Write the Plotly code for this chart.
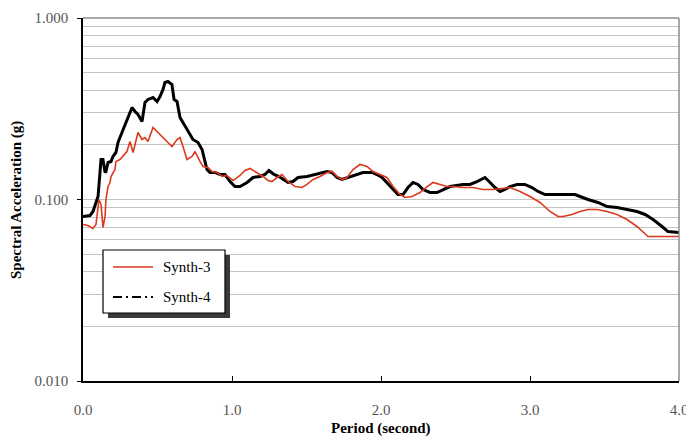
import plotly.graph_objects as go

# Period (s) and spectral acceleration (g) for the two synthetic records
period_s3 = [0.000, 0.034, 0.067, 0.087, 0.107, 0.121, 0.134, 0.148, 0.154, 0.168,
             0.181, 0.188, 0.215, 0.221, 0.248, 0.268, 0.295, 0.315, 0.336, 0.369,
             0.396, 0.416, 0.436, 0.470, 0.497, 0.530, 0.564, 0.597, 0.631, 0.651,
             0.671, 0.698, 0.732, 0.752, 0.785, 0.805, 0.839, 0.866, 0.899, 0.933,
             0.966, 1.007, 1.054, 1.087, 1.121, 1.168, 1.208, 1.242, 1.268, 1.302,
             1.336, 1.376, 1.423, 1.470, 1.503, 1.544, 1.591, 1.638, 1.671, 1.705,
             1.738, 1.772, 1.812, 1.859, 1.906, 1.946, 1.993, 2.040, 2.081, 2.128,
             2.161, 2.208, 2.262, 2.309, 2.349, 2.396, 2.443, 2.483, 2.550, 2.617,
             2.685, 2.752, 2.812, 2.866, 2.933, 3.000, 3.067, 3.134, 3.188, 3.221,
             3.282, 3.336, 3.389, 3.450, 3.517, 3.584, 3.651, 3.718, 3.792, 3.872,
             4.000]
sa_s3 = [0.0728, 0.0719, 0.0692, 0.0728, 0.1000, 0.0939, 0.0701, 0.0806, 0.1000, 0.1179,
         0.1241, 0.1339, 0.1463, 0.1620, 0.1661, 0.1725, 0.1838, 0.2087, 0.1815, 0.2339,
         0.2141, 0.2196, 0.2087, 0.2493, 0.2370, 0.2224, 0.2087, 0.1959, 0.2141, 0.2196,
         0.1959, 0.1661, 0.1725, 0.1838, 0.1620, 0.1520, 0.1500, 0.1427, 0.1409, 0.1339,
         0.1356, 0.1272, 0.1356, 0.1445, 0.1482, 0.1409, 0.1339, 0.1273, 0.1256, 0.1322,
         0.1373, 0.1256, 0.1179, 0.1164, 0.1210, 0.1289, 0.1339, 0.1409, 0.1427, 0.1339,
         0.1289, 0.1322, 0.1463, 0.1559, 0.1520, 0.1427, 0.1373, 0.1322, 0.1179, 0.1065,
         0.1026, 0.1039, 0.1093, 0.1179, 0.1241, 0.1210, 0.1179, 0.1179, 0.1164, 0.1164,
         0.1135, 0.1135, 0.1150, 0.1164, 0.1107, 0.1039, 0.0963, 0.0859, 0.0806, 0.0806,
         0.0827, 0.0859, 0.0881, 0.0881, 0.0859, 0.0827, 0.0776, 0.0710, 0.0625, 0.0625,
         0.0625]

period_s4 = [0.000, 0.047, 0.067, 0.087, 0.101, 0.114, 0.121, 0.134, 0.148, 0.154,
             0.168, 0.188, 0.201, 0.221, 0.235, 0.248, 0.282, 0.315, 0.329, 0.349,
             0.369, 0.396, 0.416, 0.436, 0.470, 0.497, 0.517, 0.537, 0.550, 0.570,
             0.597, 0.611, 0.631, 0.651, 0.685, 0.705, 0.738, 0.772, 0.799, 0.832,
             0.852, 0.886, 0.919, 0.953, 0.987, 1.020, 1.054, 1.101, 1.141, 1.188,
             1.221, 1.248, 1.282, 1.315, 1.342, 1.376, 1.409, 1.443, 1.503, 1.557,
             1.604, 1.638, 1.671, 1.705, 1.738, 1.779, 1.839, 1.879, 1.940, 1.973,
             2.007, 2.040, 2.081, 2.114, 2.148, 2.181, 2.215, 2.248, 2.282, 2.329,
             2.376, 2.416, 2.463, 2.550, 2.597, 2.644, 2.698, 2.732, 2.765, 2.799,
             2.832, 2.866, 2.913, 2.966, 3.013, 3.054, 3.101, 3.168, 3.235, 3.302,
             3.336, 3.389, 3.456, 3.517, 3.584, 3.651, 3.718, 3.772, 3.826, 3.886,
             3.926, 4.000]
sa_s4 = [0.0806, 0.0816, 0.0859, 0.0963, 0.1039, 0.1409, 0.1661, 0.1661, 0.1409, 0.1427,
         0.1599, 0.1620, 0.1725, 0.1815, 0.2061, 0.2196, 0.2590, 0.3015, 0.3213, 0.3054,
         0.2940, 0.2690, 0.3423, 0.3560, 0.3648, 0.3467, 0.3695, 0.4040, 0.4412, 0.4470,
         0.4300, 0.3560, 0.3467, 0.2829, 0.2524, 0.2370, 0.2141, 0.2061, 0.1886, 0.1463,
         0.1409, 0.1409, 0.1373, 0.1373, 0.1256, 0.1179, 0.1179, 0.1241, 0.1322, 0.1339,
         0.1373, 0.1445, 0.1373, 0.1339, 0.1289, 0.1241, 0.1256, 0.1322, 0.1339, 0.1373,
         0.1409, 0.1427, 0.1409, 0.1322, 0.1289, 0.1322, 0.1373, 0.1409, 0.1409, 0.1373,
         0.1322, 0.1241, 0.1135, 0.1065, 0.1065, 0.1164, 0.1241, 0.1210, 0.1135, 0.1093,
         0.1093, 0.1135, 0.1179, 0.1210, 0.1210, 0.1256, 0.1322, 0.1241, 0.1164, 0.1107,
         0.1135, 0.1179, 0.1210, 0.1210, 0.1164, 0.1107, 0.1065, 0.1065, 0.1065, 0.1065,
         0.1039, 0.1000, 0.0963, 0.0915, 0.0904, 0.0881, 0.0859, 0.0827, 0.0776, 0.0710,
         0.0666, 0.0658]

series_names = ["Synth-3", "Synth-4"]
x_ticks = [0, 1, 2, 3, 4]
x_tick_text = ["0.0", "1.0", "2.0", "3.0", "4.0"]
y_ticks = [0.01, 0.1, 1.0]
y_tick_text = ["0.010", "0.100", "1.000"]
y_minor = [m * d for d in (0.01, 0.1) for m in range(2, 10)]

RED = "#dc3a1e"
BLACK = "#000000"
SERIF = "Liberation Serif, Times New Roman, serif"

W, H = 686, 439
L, R, T, B = 83, 7, 18, 58
PW, PH = W - L - R, H - T - B


def px(x):
    return (x - L) / PW


def py(y):
    return (H - B - y) / PH


fig = go.Figure()
fig.add_trace(go.Scatter(x=period_s4, y=sa_s4, mode="lines", name=series_names[1],
                         line=dict(color=BLACK, width=3), showlegend=False))
fig.add_trace(go.Scatter(x=period_s3, y=sa_s3, mode="lines", name=series_names[0],
                         line=dict(color=RED, width=1.6), showlegend=False))

shapes = [
    # grey top and right frame edges
    dict(type="line", xref="paper", yref="paper", x0=0, x1=1, y0=1, y1=1,
         line=dict(color="#8c8c8c", width=1.5)),
    dict(type="line", xref="paper", yref="paper", x0=1, x1=1, y0=0, y1=1,
         line=dict(color="#8c8c8c", width=1.5)),
    # legend box with drop shadow
    dict(type="rect", xref="paper", yref="paper", x0=px(108), x1=px(230), y0=py(318), y1=py(255),
         fillcolor="#3a3a3a", line=dict(width=0)),
    dict(type="rect", xref="paper", yref="paper", x0=px(103), x1=px(225), y0=py(313), y1=py(250),
         fillcolor="white", line=dict(color="black", width=1.2)),
    dict(type="line", xref="paper", yref="paper", x0=px(113), x1=px(153), y0=py(267), y1=py(267),
         line=dict(color=RED, width=1.6)),
    dict(type="line", xref="paper", yref="paper", x0=px(113), x1=px(153), y0=py(297), y1=py(297),
         line=dict(color=BLACK, width=2.2, dash="9px,4px,2px,4px")),
]

annotations = [
    dict(text=series_names[0], xref="paper", yref="paper", x=px(161), y=py(267),
         xanchor="left", yanchor="middle", showarrow=False,
         font=dict(family=SERIF, size=15, color="black")),
    dict(text=series_names[1], xref="paper", yref="paper", x=px(161), y=py(297),
         xanchor="left", yanchor="middle", showarrow=False,
         font=dict(family=SERIF, size=15, color="black")),
    dict(text="<b>Spectral Acceleration (g)</b>", xref="paper", yref="paper",
         x=px(17), y=py(200), xanchor="center", yanchor="middle", textangle=-90,
         showarrow=False, font=dict(family=SERIF, size=15, color="black")),
    dict(text="<b>Period (second)</b>", xref="paper", yref="paper",
         x=px(381), y=py(428), xanchor="center", yanchor="middle",
         showarrow=False, font=dict(family=SERIF, size=15, color="black")),
]

fig.update_layout(
    width=W, height=H,
    margin=dict(l=L, r=R, t=T, b=B, autoexpand=False),
    paper_bgcolor="white", plot_bgcolor="white",
    shapes=shapes, annotations=annotations,
    xaxis=dict(range=[0, 4], tickmode="array", tickvals=x_ticks, ticktext=x_tick_text,
               showgrid=False, zeroline=False, showline=True, linecolor="black", linewidth=1.5,
               ticks="inside", ticklen=5, tickcolor="black", ticklabelstandoff=14,
               ticklabeloverflow="allow", automargin=False,
               tickfont=dict(family=SERIF, size=15, color="#555555")),
    yaxis=dict(type="log", range=[-2, 0], tickmode="array", tickvals=y_ticks, ticktext=y_tick_text,
               showgrid=True, gridcolor="#c4c4c4", gridwidth=1,
               zeroline=False, showline=True, linecolor="black", linewidth=1.5,
               ticks="outside", ticklen=4, tickcolor="black", ticklabelstandoff=6,
               automargin=False,
               tickfont=dict(family=SERIF, size=15, color="#555555"),
               minor=dict(tickmode="array", tickvals=y_minor, showgrid=True,
                          gridcolor="#c4c4c4", gridwidth=1, ticks="")),
)

fig.write_html("out.html")
